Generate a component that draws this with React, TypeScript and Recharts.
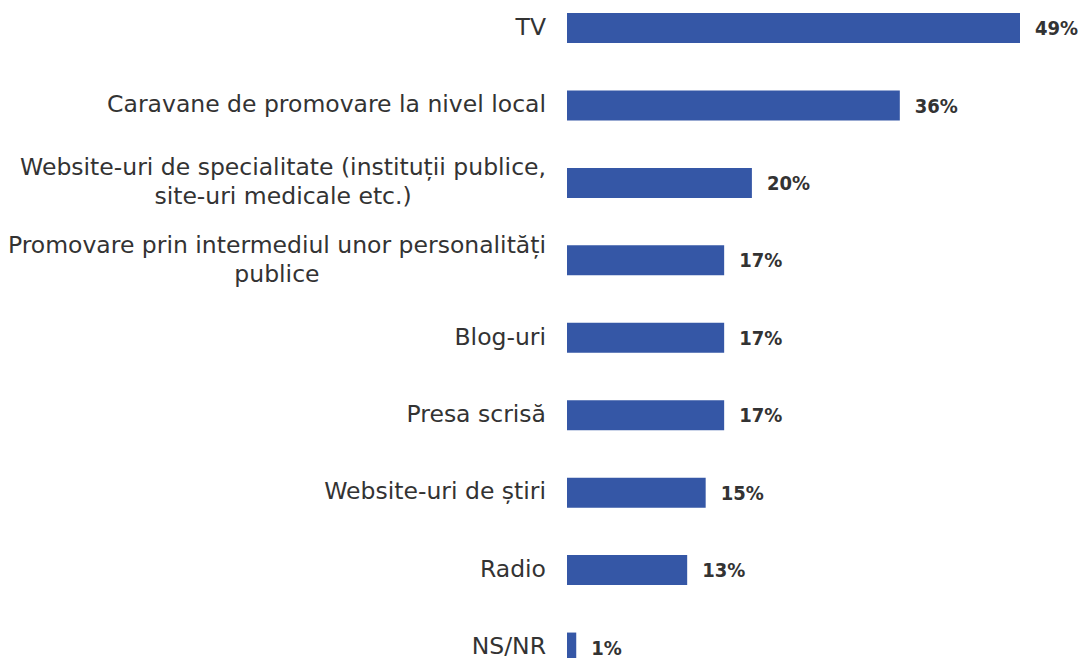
import { useEffect } from "react";
import { Bar, BarChart, LabelList, XAxis, YAxis } from "recharts";

const categories = [
  ["TV"],
  ["Caravane de promovare la nivel local"],
  ["Website-uri de specialitate (instituții publice,", "site-uri medicale etc.)"],
  ["Promovare prin intermediul unor personalități", "publice"],
  ["Blog-uri"],
  ["Presa scrisă"],
  ["Website-uri de știri"],
  ["Radio"],
  ["NS/NR"],
];
const values = [49, 36, 20, 17, 17, 17, 15, 13, 1];

const data = categories.map((lines, i) => ({ name: lines.join("\n"), v: values[i] }));

const FONT = "'DejaVu Sans', sans-serif";
const VFONT = "'DejaVu Sans Condensed', 'DejaVu Sans', sans-serif";
const FS = 23.5;
const TXT = "#333333";

let ctx: CanvasRenderingContext2D | null = null;
function measure(s: string) {
  if (!ctx) ctx = document.createElement("canvas").getContext("2d");
  if (!ctx) return s.length * 11;
  ctx.font = `${FS}px ${FONT}`;
  return ctx.measureText(s).width;
}

function CatTick({ x, y, payload }: any) {
  const lines: string[] = String(payload.value).split("\n");
  const w = Math.max(...lines.map(measure));
  const cx = x - w / 2;
  const lh = 29;
  const y0 = y - 1 - ((lines.length - 1) * lh) / 2;
  return (
    <text x={cx} y={y0} textAnchor="middle" dominantBaseline="central" fill={TXT} fontSize={FS} fontFamily={FONT}>
      {lines.map((l, i) => (
        <tspan key={i} x={cx} y={y0 + i * lh}>
          {l}
        </tspan>
      ))}
    </text>
  );
}

export default function App() {
  useEffect(() => {
    document.body.style.margin = "0";
  }, []);
  return (
    <div style={{ width: 1079, height: 658, background: "#fff" }}>
      <BarChart
        width={1079}
        height={658}
        data={data}
        layout="vertical"
        margin={{ top: -11, right: 59, bottom: -28, left: 0 }}
      >
        <XAxis type="number" domain={[0, 49]} hide />
        <YAxis
          type="category"
          dataKey="name"
          width={567}
          axisLine={false}
          tickLine={false}
          tick={<CatTick />}
          tickMargin={15}
          interval={0}
        />
        <Bar dataKey="v" fill="#3557A6" barSize={30} isAnimationActive={false}>
          <LabelList
            dataKey="v"
            position="right"
            offset={15}
            formatter={(v: any) => `${v}%`}
            fill={TXT}
            fontSize={20}
            fontWeight="bold"
            fontFamily={VFONT}
          />
        </Bar>
      </BarChart>
    </div>
  );
}
